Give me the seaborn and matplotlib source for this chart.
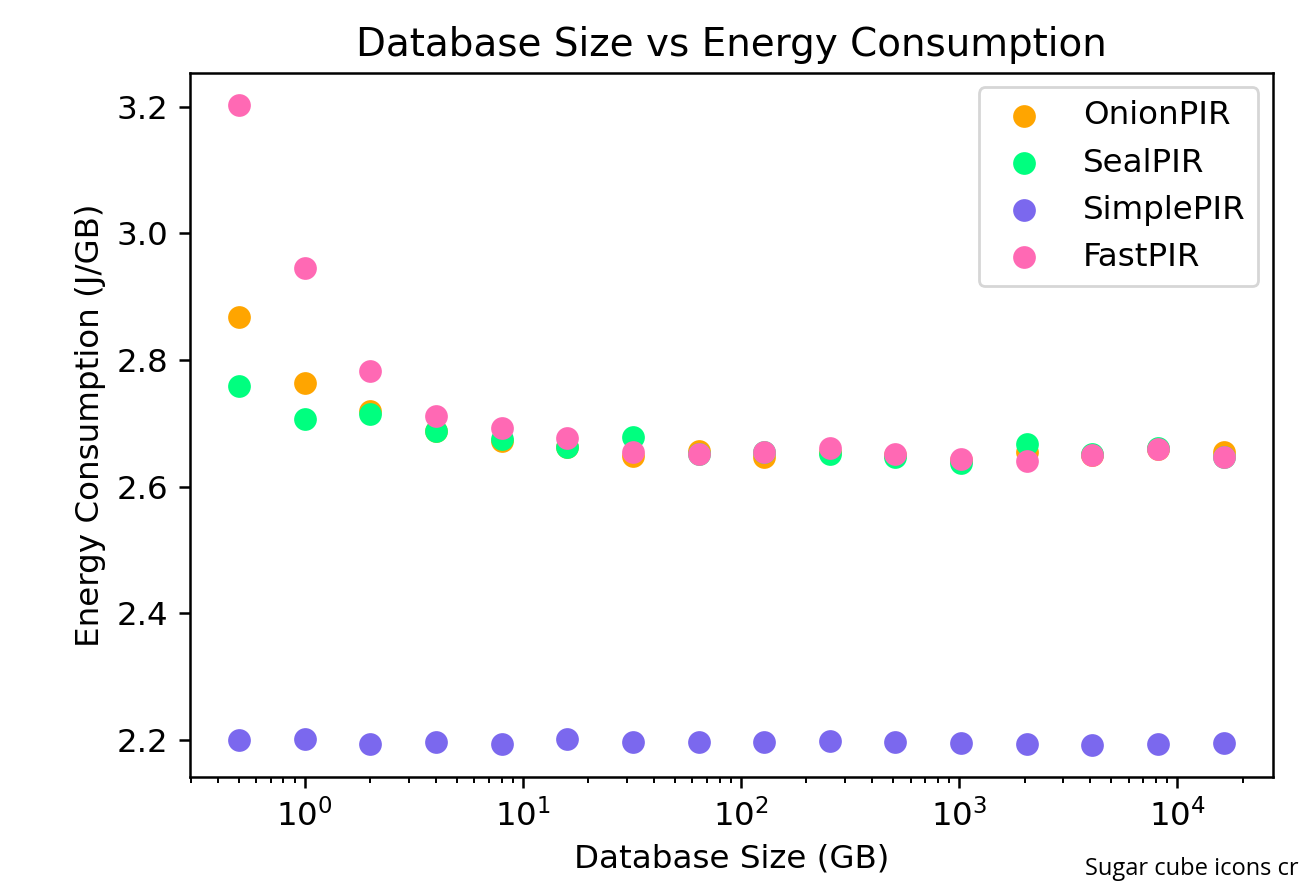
import matplotlib
matplotlib.use("Agg")
import matplotlib.pyplot as plt
import seaborn as sns

# database sizes in GB (0.5 .. 16384, doubling)
sizes = [0.5, 1, 2, 4, 8, 16, 32, 64, 128, 256, 512, 1024, 2048, 4096, 8192, 16384]

onion = [2.867, 2.763, 2.720, 2.688, 2.672, 2.662, 2.649, 2.656, 2.647, 2.655,
         2.650, 2.642, 2.655, 2.650, 2.659, 2.655]
seal = [2.759, 2.707, 2.714, 2.688, 2.675, 2.662, 2.678, 2.652, 2.655, 2.652,
        2.646, 2.638, 2.668, 2.651, 2.661, 2.646]
simple = [2.200, 2.201, 2.193, 2.196, 2.194, 2.201, 2.197, 2.197, 2.197, 2.198,
          2.196, 2.195, 2.194, 2.192, 2.194, 2.195]
fast = [3.203, 2.945, 2.783, 2.712, 2.693, 2.677, 2.654, 2.651, 2.655, 2.661,
        2.652, 2.644, 2.641, 2.650, 2.660, 2.647]

series = [
    ("OnionPIR", onion, "orange"),
    ("SealPIR", seal, "springgreen"),
    ("SimplePIR", simple, "mediumslateblue"),
    ("FastPIR", fast, "hotpink"),
]

fs = 11.7

fig = plt.figure(figsize=(6.495, 4.43), dpi=200)
ax = fig.add_axes([0.146, 0.123, 0.834, 0.795])

for name, vals, col in series:
    sns.scatterplot(x=sizes, y=vals, color=col, label=name, s=67, linewidth=0, ax=ax)

ax.set_xscale("log")
ax.set_xlabel("Database Size (GB)", fontsize=fs)
ax.set_ylabel("Energy Consumption (J/GB)", fontsize=fs)
ax.set_title("Database Size vs Energy Consumption", fontsize=14)
ax.tick_params(axis="both", which="major", labelsize=fs, length=4.1, width=0.9)
ax.tick_params(axis="both", which="minor", length=2.3, width=0.7)
for sp in ax.spines.values():
    sp.set_linewidth(0.9)
ax.legend(loc="upper right", fontsize=fs, borderaxespad=0.45)

# credit line, cut at the right edge like the source image
fig.text(0.835, 0.012, "Sugar cube icons created by Freepik - Flaticon", fontsize=8.5,
         family="Open Sans")

fig.savefig("out.png", dpi=200)
